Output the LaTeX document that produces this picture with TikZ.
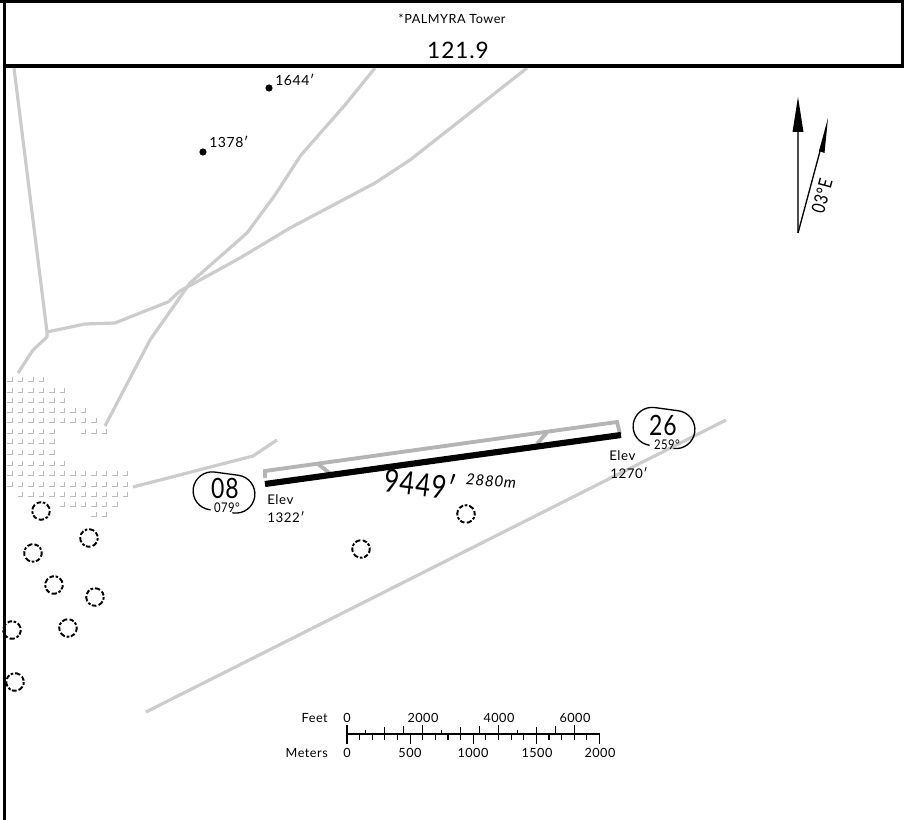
\documentclass[tikz,border=0pt]{standalone}
\usepackage{graphicx}
\usepackage{fontspec}
\setmainfont{Lato}[LetterSpace=4]
\newcommand{\fs}[1]{\fontsize{#1}{#1}\selectfont}
\newcommand{\narrow}[2]{\scalebox{#1}[1]{#2}}
\tikzset{
  road/.style={draw=roadgray,line width=2.4pt,line join=round},
  frameline/.style={draw=black,line width=2.6pt},
  tree/.style={draw=black,line width=1.45pt,dash pattern=on 3.4pt off 1.2pt on 2pt off 1.4pt on 4pt off 1.8pt},
  lab/.style={inner sep=0pt,text=black},
  scaletick/.style={draw=black,line width=0.8pt},
  pill/.style={draw=black,line width=1pt},
  hut/.style={draw=hutgray,line width=0.65pt}
}
\definecolor{roadgray}{HTML}{CCCCCC}
\definecolor{rwgray}{HTML}{B4B4B4}
\definecolor{hutgray}{HTML}{BBBBBB}
\newcommand{\hutrow}[2]{\foreach \c in {#2}{\draw[hut] ({1.5+10.5*\c-5},#1) -- ({1.5+10.5*\c},#1) -- ({1.5+10.5*\c},#1-4);}}
\begin{document}
\begin{tikzpicture}[x=0.75pt,y=-0.75pt]
\useasboundingbox (0,0) rectangle (904,820);
% roads
\draw[road] (14,68) -- (47,332) -- (47,337) -- (33,350) -- (18,373);
\draw[road] (47,332) -- (85,324) -- (115,323) -- (140,313) -- (168,302) -- (180,291) -- (240,258) -- (290,228) -- (375,183) -- (410,160) -- (527,68);
\draw[road] (375,68) -- (345,105) -- (301,155) -- (275,195) -- (247,233) -- (190,283) -- (150,340) -- (105,426);
\draw[road] (133,487) -- (253,456) -- (277,440);
\draw[road] (146,712) -- (726,420);
% built-up area
\hutrow{381}{1,2,3,4}
\hutrow{392}{1,...,6}
\hutrow{402}{1,...,6}
\hutrow{412}{1,...,8}
\hutrow{422}{1,...,9}
\hutrow{433}{1,...,5,8,9,10}
\hutrow{443}{1,...,5}
\hutrow{454}{1,...,5}
\hutrow{465}{1,...,6}
\hutrow{475}{1,...,12}
\hutrow{486}{1,...,12}
\hutrow{496}{2,...,12}
\hutrow{506}{6,...,11}
\hutrow{516}{9,10}
% trees
\foreach \tx/\ty/\rr in {41/511/0,89/538/40,33/553/80,54/585/120,95/597/160,68/628/200,12/630/240,15/682/280,361/549/320,466/514/20}
  \draw[tree,rotate around={\rr:(\tx,\ty)}] (\tx,\ty) circle[radius=8.8];
% runway
\draw[draw=rwgray,line width=2.9pt,line join=miter] (265,478) -- (265,471) -- (617,422) -- (620,434);
\draw[draw=rwgray,line width=2.9pt] (318,464) -- (332,475);
\draw[draw=rwgray,line width=2.9pt] (548,431) -- (537,444);
\draw[draw=black,line width=4.6pt] (265,484) -- (621,435);
% frame
\draw[frameline] (4.5,0) -- (4.5,820);
\draw[frameline] (0,1) -- (904,1);
\draw[frameline] (903,0) -- (903,66);
\draw[frameline] (3,66) -- (904,66);
% header
\node[lab] (twr) at (452,19) {\fs{9.5}*PALMYRA Tower};
\node[lab] (freq) at (458,50) {\fs{17}121.9};
% spot heights
\fill (269,88) circle[radius=3.6];
\fill (203,152) circle[radius=3.6];
\node[lab,anchor=west] (s1) at (275,80) {\fs{10.5}1644′};
\node[lab,anchor=west] (s2) at (209,142) {\fs{10.5}1378′};
% north arrows
\draw[draw=black!70,line width=1.5pt] (798,233) -- (798,130);
\fill (798,97) -- (803.5,132) -- (792.5,132) -- cycle;
\draw[draw=black,line width=1pt] (798,233) -- (823,140);
\fill (828,118) -- (824.5,153) -- (819,151) -- cycle;
\node[lab,rotate=75] (var) at (822,196) {\fs{14}\narrow{0.82}{03°E}};
% runway ends
\begin{scope}[shift={(224,492.5)},rotate=-7.7]
\draw[pill] (-11,19) -- (-12,19) arc[start angle=90,end angle=270,radius=19] -- (12,-19) arc[start angle=270,end angle=450,radius=19] -- (11,19);
\end{scope}
\node[lab] (r08) at (225,488.5) {\fs{21}\narrow{0.82}{08}};
\node[lab] (h08) at (227,508) {\fs{10}\narrow{0.85}{079°}};
\begin{scope}[shift={(664,428)},rotate=-7.7]
\draw[pill] (-13,19) -- (-12,19) arc[start angle=90,end angle=270,radius=19] -- (12,-19) arc[start angle=270,end angle=450,radius=19] -- (13,19);
\end{scope}
\node[lab] (r26) at (663,425.5) {\fs{21}\narrow{0.82}{26}};
\node[lab] (h26) at (667,444.5) {\fs{10}\narrow{0.85}{259°}};
\node[lab,anchor=west] (e1) at (267,500) {\fs{10}Elev};
\node[lab,anchor=west] (e1v) at (267,517) {\fs{10}1322′};
\node[lab,anchor=west] (e2) at (609,456) {\fs{10}Elev};
\node[lab,anchor=west] (e2v) at (610,473) {\fs{10}1270′};
\node[lab,rotate=-7] (len) at (420,483) {\fs{24}\narrow{0.8}{9449′}};
\node[lab,rotate=-4] (lenm) at (491,481) {\fs{11.5}\itshape 2880m};
% scale
\draw[scaletick] (347,734) -- (599.5,734);
\foreach \i/\h in {0/9,1/4,2/7,3/8,4/9,5/4,6/7,7/8,8/9,9/4,10/7,11/8,12/9}
  \draw[scaletick] ({347+18.95*\i},734) -- ({347+18.95*\i},734-\h);
\foreach \i in {0,...,20}{
  \pgfmathsetmacro{\hh}{mod(\i,5)==0?10:6}
  \draw[scaletick] ({347+12.625*\i},734) -- ({347+12.625*\i},734+\hh);
}
\node[lab,anchor=east] (ft) at (328,718) {\fs{9.5}Feet};
\node[lab,anchor=east] (mt) at (328,753) {\fs{9.5}Meters};
\foreach \xx/\tt/\nn in {347/0/f0,423/2000/f2,499/4000/f4,575/6000/f6}
  \node[lab] (\nn) at (\xx,718) {\fs{9.5}\tt};
\foreach \xx/\tt/\nn in {347/0/m0,410/500/m5,473/1000/m10,537/1500/m15,600/2000/m20}
  \node[lab] (\nn) at (\xx,753) {\fs{9.5}\tt};
\end{tikzpicture}
\end{document}
